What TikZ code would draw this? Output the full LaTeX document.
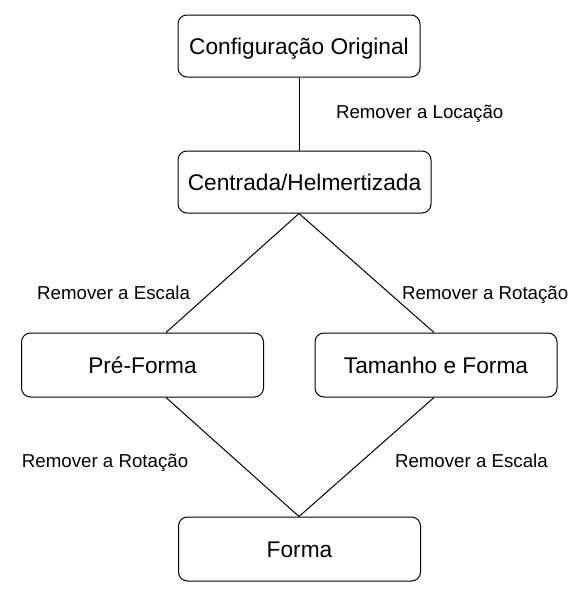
\documentclass[tikz,border=0pt]{standalone}
\usepackage{fontspec}
\setmainfont{Liberation Sans}
\usepackage{tikz}

\tikzset{
  stage/.style={draw,line width=1pt,rounded corners=9pt,minimum width=242pt,minimum height=62pt,
    inner sep=0pt,text height=16.3pt,text depth=0pt,font=\fontsize{22.7}{27}\selectfont},
  lbl/.style={inner sep=0pt,font=\fontsize{18.7}{22}\selectfont}
}

\begin{document}
\begin{tikzpicture}[x=1pt,y=-1pt,line width=1pt]
\useasboundingbox (0,0) rectangle (582,598);
% boxes
\node[stage] (orig) at (299,46) {Configuração Original};
\node[stage,minimum width=253pt] (cen) at (304.5,182) {Centrada/Helmertizada};
\node[stage,minimum height=64pt] (pre) at (142.5,365) {Pré-Forma};
\node[stage,minimum height=64pt] (tam) at (436,365) {Tamanho e Forma};
\node[stage,minimum height=64pt] (forma) at (299.5,549) {Forma};
\coordinate (lx) at (166,0);
\coordinate (rx) at (434,0);
% connectors
\draw (orig.south) -- (orig.south |- cen.north);
\draw (orig.south |- cen.south) -- (pre.north -| lx);
\draw (orig.south |- cen.south) -- (tam.north -| rx);
\draw (pre.south -| lx) -- (orig.south |- forma.north);
\draw (tam.south -| rx) -- (orig.south |- forma.north);
% labels
\node[lbl,anchor=base west] (l1) at (335.5,118) {Remover a Locação};
\node[lbl,anchor=base east] (l2) at (190.5,299) {Remover a Escala};
\node[lbl,anchor=base west] (l3) at (401.5,299) {Remover a Rotação};
\node[lbl,anchor=base east] (l4) at (188.7,467) {Remover a Rotação};
\node[lbl,anchor=base west] (l5) at (394.5,467) {Remover a Escala};
\end{tikzpicture}
\end{document}
